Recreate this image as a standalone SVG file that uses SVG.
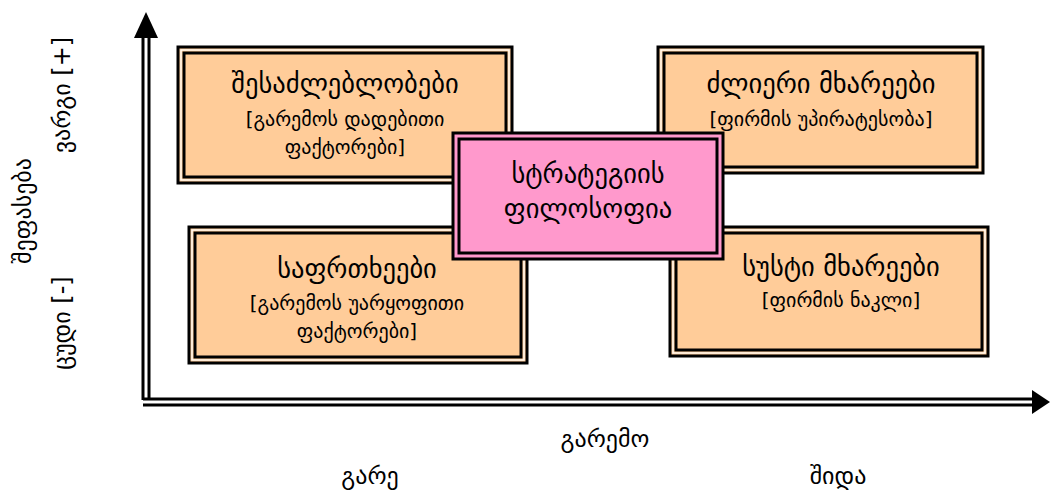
<svg xmlns="http://www.w3.org/2000/svg" width="1050" height="493" viewBox="0 0 1050 493">
<style>
.o{stroke:#000;stroke-width:3}
.i{fill:none;stroke:#000;stroke-width:3}
.w{fill:none;stroke:#fff;stroke-width:1.2}
.peach{fill:#FFCC99}
.pink{fill:#FF99CC}
.ax{stroke:#000;stroke-width:3}
text{font-family:"DejaVu Sans",sans-serif;fill:#000;text-anchor:middle}
.t{font-size:26.5px}
.s{font-size:20px}
.a{font-size:24px}
</style>
<g id="axes">
<line class="ax" x1="143" y1="400" x2="143" y2="36"/>
<line class="ax" x1="149" y1="400" x2="149" y2="36"/>
<polygon points="146,12 134,38 158,38" fill="#000"/>
<line class="ax" x1="143" y1="399" x2="1035" y2="399"/>
<line class="ax" x1="143" y1="405" x2="1035" y2="405"/>
<polygon points="1050,402 1032,390 1032,414" fill="#000"/>
</g>
<g id="opportunities">
<rect class="o peach" x="178" y="47" width="334" height="136"/>
<rect class="w" x="181" y="50" width="328" height="130"/>
<rect class="i" x="184" y="53" width="322" height="124"/>
<text class="t" x="345" y="93">შესაძლებლობები</text>
<text class="s" x="345" y="126">[გარემოს დადებითი</text>
<text class="s" x="345" y="154">ფაქტორები]</text>
</g>
<g id="strengths">
<rect class="o peach" x="658" y="47" width="325" height="126"/>
<rect class="w" x="661" y="50" width="319" height="120"/>
<rect class="i" x="664" y="53" width="313" height="114"/>
<text class="t" x="821" y="93">ძლიერი მხარეები</text>
<text class="s" x="821" y="126">[ფირმის უპირატესობა]</text>
</g>
<g id="threats">
<rect class="o peach" x="189" y="227" width="338" height="136"/>
<rect class="w" x="192" y="230" width="332" height="130"/>
<rect class="i" x="195" y="233" width="326" height="124"/>
<text class="t" x="357" y="278">საფრთხეები</text>
<text class="s" x="357" y="310">[გარემოს უარყოფითი</text>
<text class="s" x="357" y="338">ფაქტორები]</text>
</g>
<g id="weaknesses">
<rect class="o peach" x="670" y="227" width="318" height="129"/>
<rect class="w" x="673" y="230" width="312" height="123"/>
<rect class="i" x="676" y="233" width="306" height="117"/>
<text class="t" x="841" y="276">სუსტი მხარეები</text>
<text class="s" x="841" y="307">[ფირმის ნაკლი]</text>
</g>
<g id="philosophy">
<rect class="o pink" x="453" y="133" width="270" height="126"/>
<rect class="i" x="459" y="139" width="258" height="114"/>
<text class="t" x="588" y="183">სტრატეგიის</text>
<text class="t" x="588" y="218">ფილოსოფია</text>
</g>
<g id="labels">
<text class="a" transform="translate(31,211) rotate(-90)">შეფასება</text>
<text class="a" transform="translate(70,95) rotate(-90)">ვარგი [+]</text>
<text class="a" transform="translate(70,323) rotate(-90)">ცუდი [-]</text>
<text class="a" x="605" y="447">გარემო</text>
<text class="a" x="370" y="484">გარე</text>
<text class="a" x="838" y="484">შიდა</text>
</g>
</svg>
